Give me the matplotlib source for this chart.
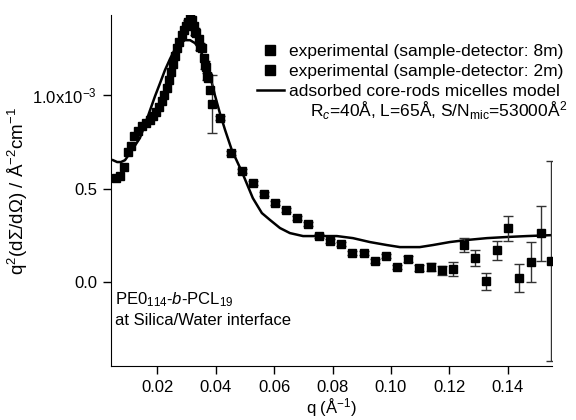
import matplotlib
matplotlib.use("Agg")
import matplotlib.pyplot as plt
from matplotlib.lines import Line2D

plt.rcParams['font.family'] = ['Liberation Sans', 'DejaVu Sans']
plt.rcParams['mathtext.fontset'] = 'custom'
plt.rcParams['mathtext.rm'] = 'Liberation Sans'
plt.rcParams['mathtext.it'] = 'Liberation Sans:italic'

# values in units of 1e-3 A^-2 cm^-1
q_8m = [0.0058, 0.0072, 0.0086, 0.0099, 0.0110, 0.0120, 0.0134, 0.0147, 0.0161, 0.0175,
        0.0185, 0.0195, 0.0205, 0.0216, 0.0223, 0.0233, 0.0240, 0.0247, 0.0253, 0.0260,
        0.0267, 0.0274, 0.0284, 0.0291, 0.0298, 0.0305, 0.0312, 0.0319, 0.0326, 0.0333,
        0.0342, 0.0353, 0.0360, 0.0366, 0.0373, 0.0380]
y_8m = [0.556, 0.567, 0.615, 0.695, 0.727, 0.781, 0.807, 0.834, 0.850, 0.866,
        0.888, 0.909, 0.936, 0.968, 1.000, 1.037, 1.080, 1.123, 1.166, 1.209,
        1.251, 1.283, 1.321, 1.348, 1.369, 1.390, 1.417, 1.400, 1.370, 1.330,
        1.300, 1.250, 1.200, 1.150, 1.090, 1.030]

q_2m = [0.0305, 0.0330, 0.0345, 0.0362, 0.0370, 0.0387, 0.0414, 0.0452, 0.0490, 0.0527,
        0.0565, 0.0603, 0.0640, 0.0678, 0.0716, 0.0753, 0.0791, 0.0829, 0.0866, 0.0908,
        0.0945, 0.0983, 0.1021, 0.1058, 0.1096, 0.1137, 0.1175, 0.1212, 0.1250, 0.1288,
        0.1325, 0.1363, 0.1401, 0.1438, 0.1479, 0.1514, 0.1548]
y_2m = [1.380, 1.340, 1.260, 1.160, 1.100, 0.952, 0.877, 0.690, 0.594, 0.529,
        0.471, 0.422, 0.385, 0.342, 0.310, 0.246, 0.219, 0.203, 0.155, 0.155,
        0.112, 0.139, 0.080, 0.123, 0.075, 0.080, 0.064, 0.070, 0.198, 0.128,
        0.005, 0.171, 0.289, 0.021, 0.107, 0.262, 0.112]
e_2m = [0.020, 0.020, 0.020, 0.020, 0.020, 0.155, 0.010, 0.010, 0.010, 0.010,
        0.010, 0.010, 0.010, 0.010, 0.010, 0.010, 0.010, 0.010, 0.010, 0.010,
        0.010, 0.010, 0.012, 0.014, 0.016, 0.020, 0.024, 0.035, 0.037, 0.043,
        0.045, 0.051, 0.067, 0.075, 0.107, 0.147, 0.535]

q_model = [0.0048, 0.0062, 0.0075, 0.0089, 0.0106, 0.0123, 0.0140, 0.0158, 0.0175, 0.0192,
           0.0209, 0.0226, 0.0243, 0.0260, 0.0277, 0.0295, 0.0312, 0.0329, 0.0346, 0.0363,
           0.0380, 0.0397, 0.0414, 0.0432, 0.0455, 0.0490, 0.0527, 0.0558, 0.0586, 0.0620,
           0.0654, 0.0699, 0.0757, 0.0815, 0.0870, 0.0928, 0.0986, 0.1031, 0.1099, 0.1144,
           0.1202, 0.1260, 0.1329, 0.1397, 0.1466, 0.1551]
y_model = [0.652, 0.642, 0.642, 0.652, 0.690, 0.730, 0.770, 0.845, 0.920, 0.995,
           1.064, 1.134, 1.193, 1.246, 1.278, 1.294, 1.294, 1.278, 1.241, 1.187,
           1.107, 1.000, 0.904, 0.813, 0.706, 0.588, 0.449, 0.369, 0.332, 0.289,
           0.262, 0.246, 0.246, 0.246, 0.235, 0.214, 0.198, 0.187, 0.187, 0.198,
           0.214, 0.225, 0.235, 0.241, 0.246, 0.251]

x_ticks = [0.02, 0.04, 0.06, 0.08, 0.10, 0.12, 0.14]
x_ticklabels = ['0.02', '0.04', '0.06', '0.08', '0.10', '0.12', '0.14']
y_ticks = [0.0, 0.5, 1.0]
y_ticklabels = ['0.0', '0.5', r'1.0x10$^{-3}$']

fig = plt.figure(figsize=(5.76, 4.2), dpi=100)
ax = fig.add_axes([0.1927, 0.1286, 0.7656, 0.8354])

ax.plot(q_model, y_model, color='black', lw=1.8, zorder=2)
ax.errorbar(q_2m, y_2m, yerr=e_2m, fmt='s', color='black', ms=6, ecolor='#333333',
            elinewidth=1.0, capsize=3.5, capthick=1.0, zorder=3)
ax.plot(q_8m, y_8m, 's', color='black', ms=6, zorder=3)

ax.set_xlim(0.0041, 0.1552)
ax.set_ylim(-0.449, 1.428)
ax.set_xticks(x_ticks)
ax.set_xticklabels(x_ticklabels)
ax.set_yticks(y_ticks)
ax.set_yticklabels(y_ticklabels)
for s in ['top', 'right']:
    ax.spines[s].set_visible(False)
ax.tick_params(direction='out', length=6, width=1, labelsize=12)
ax.tick_params(axis='x', pad=4)
ax.tick_params(axis='y', pad=4)

ax.set_xlabel(r'q (Å$^{-1}$)', fontsize=12, labelpad=1)
ax.set_ylabel(r'q$^2$(d$\Sigma$/d$\Omega$) / Å$^{-2}$cm$^{-1}$', fontsize=13.5, labelpad=2)

handles = [Line2D([], [], marker='s', ls='none', color='black', ms=7),
           Line2D([], [], marker='s', ls='none', color='black', ms=7),
           Line2D([], [], color='black', lw=1.8)]
labels = ['experimental (sample-detector: 8m)',
          'experimental (sample-detector: 2m)',
          'adsorbed core-rods micelles model']
fig.legend(handles, labels, loc='upper left', bbox_to_anchor=(0.446, 0.895), frameon=False,
           fontsize=12.5, handlelength=1.55, handletextpad=0.3, labelspacing=0.26,
           borderpad=0, borderaxespad=0)
fig.text(0.984, 1 - 111 / 420, r'R$_c$=40Å, L=65Å, S/N$_{\mathrm{mic}}$=53000Å$^2$',
         ha='right', va='center', fontsize=12.5)

ax.text(0.01, 0.188, r'PE0$_{114}$-$b$-PCL$_{19}$', transform=ax.transAxes,
        ha='left', va='center', fontsize=12)
ax.text(0.01, 0.131, 'at Silica/Water interface', transform=ax.transAxes,
        ha='left', va='center', fontsize=12)

fig.savefig('out.png', dpi=100)
